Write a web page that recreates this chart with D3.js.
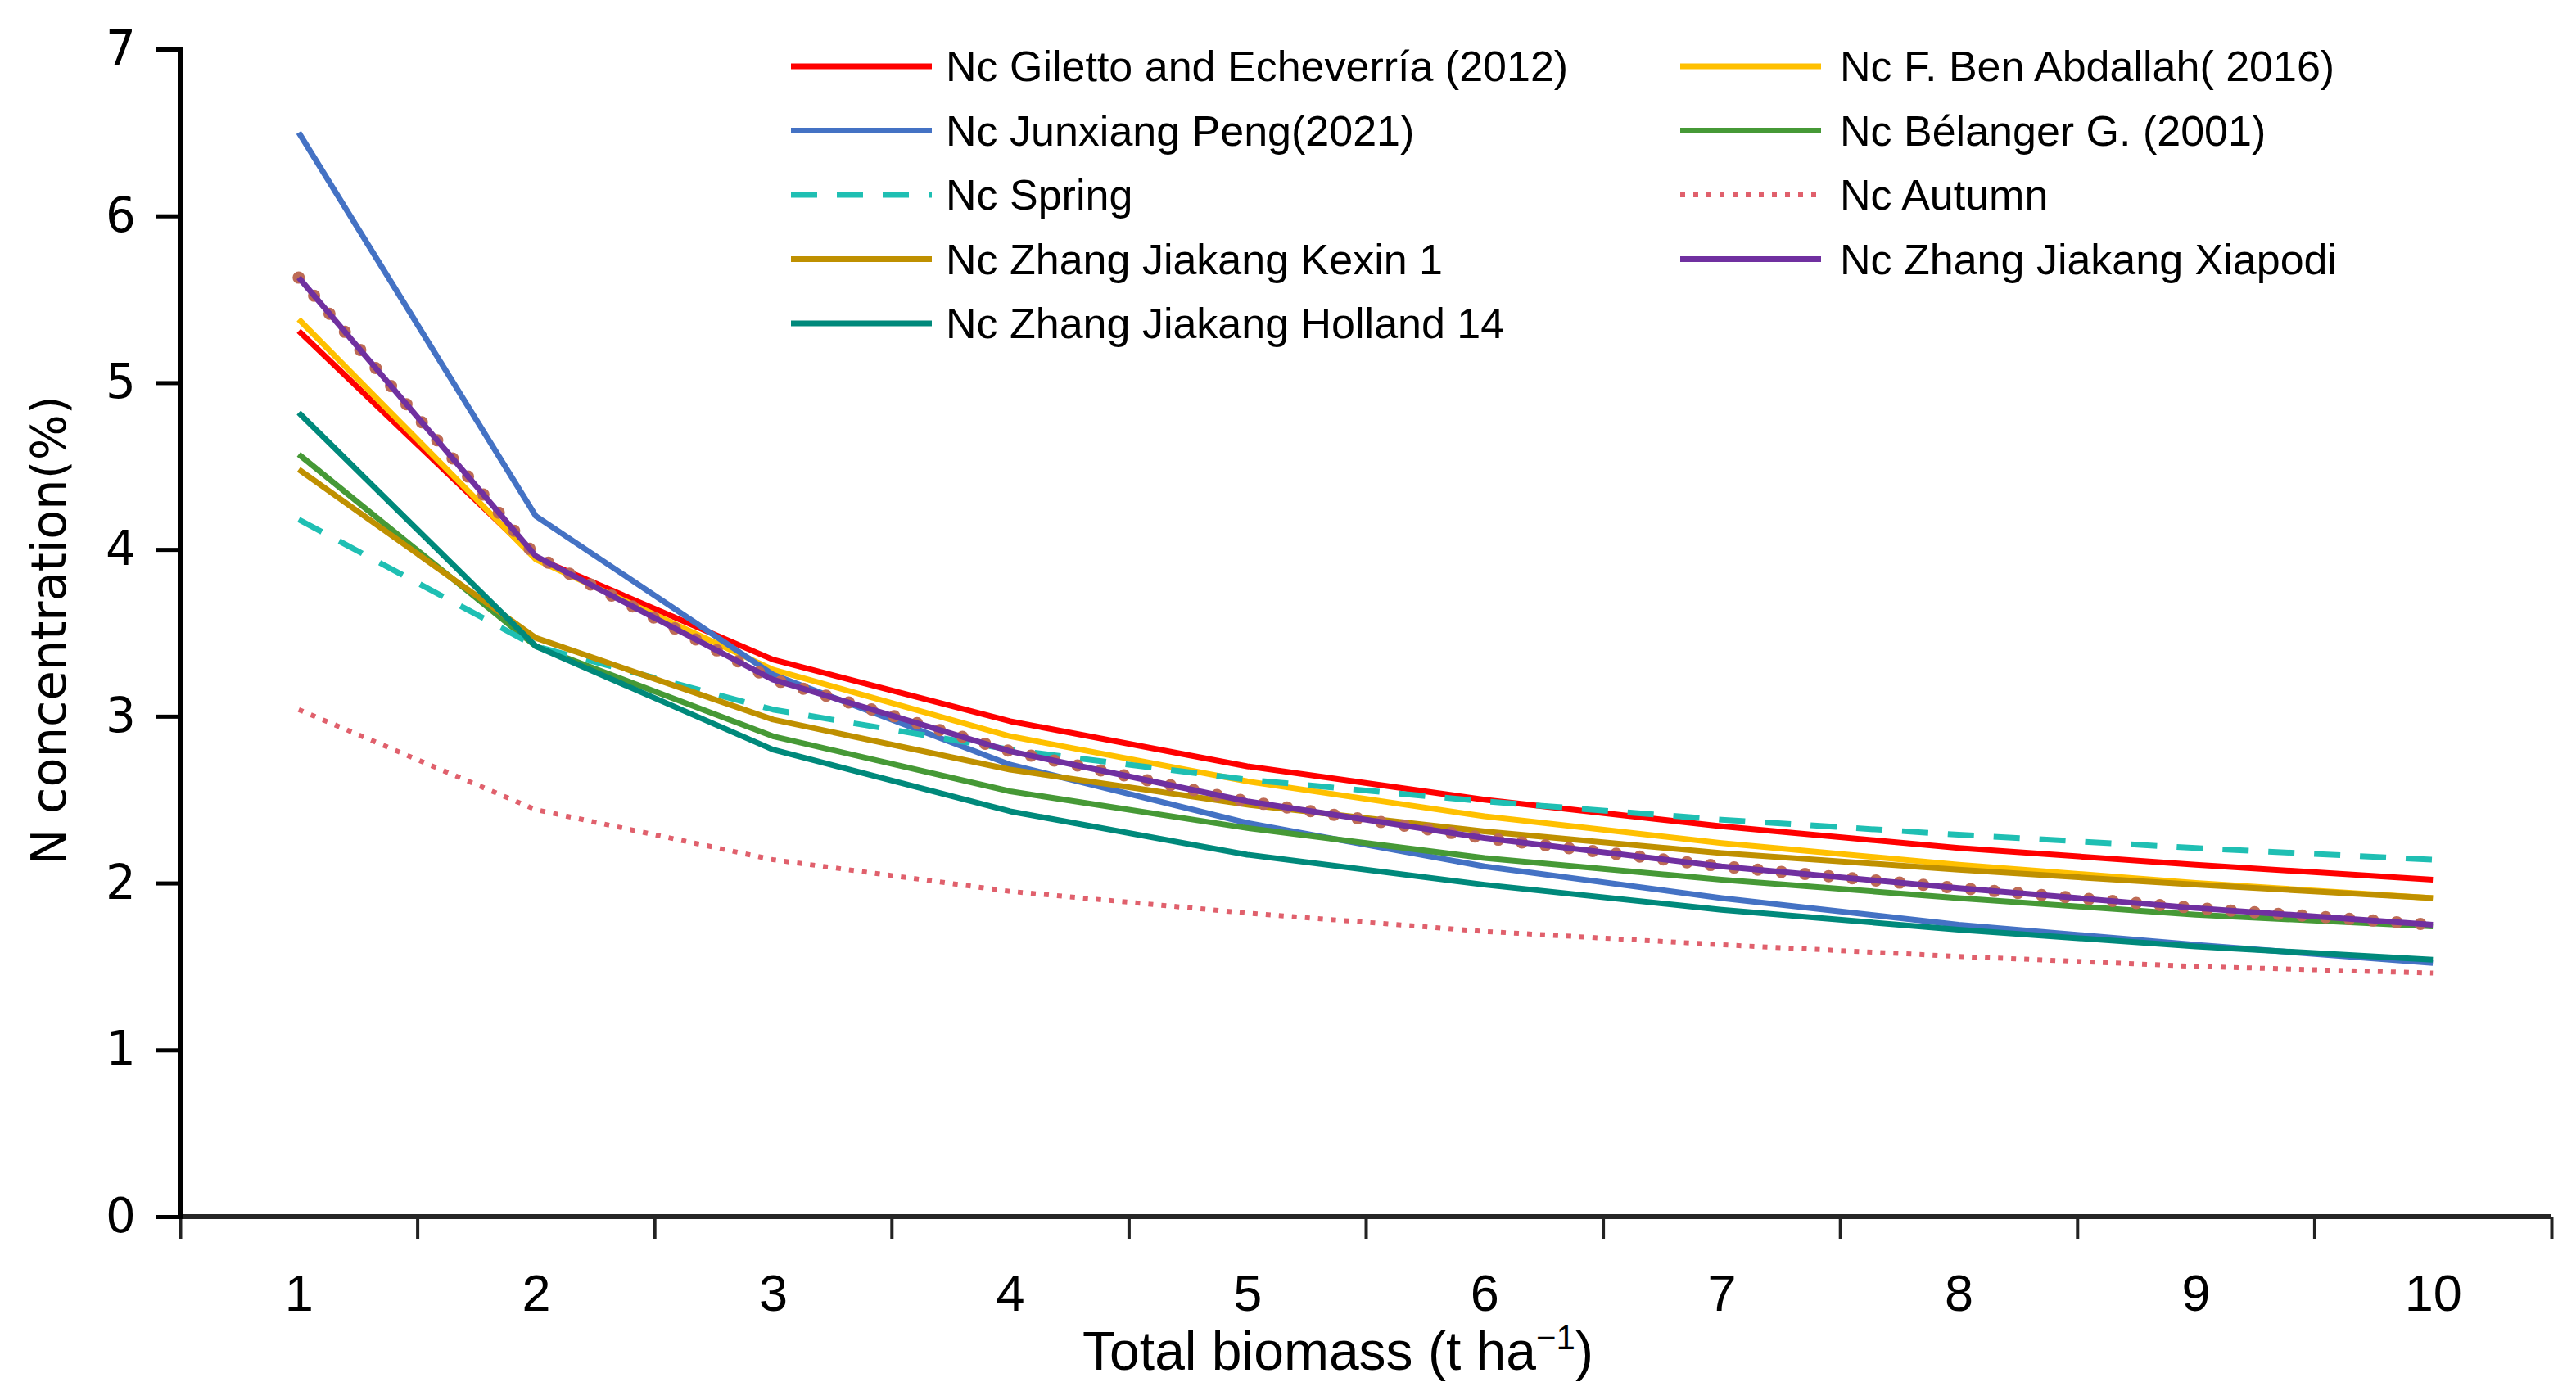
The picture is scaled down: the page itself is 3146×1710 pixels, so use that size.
<!DOCTYPE html>
<html>
<head>
<meta charset="utf-8">
<script src="https://cdn.jsdelivr.net/npm/d3@7"></script>
<style>
  html, body { margin: 0; padding: 0; background: #fff; }
  svg { display: block; }
</style>
</head>
<body>
<svg id="chart" width="3146" height="1710"></svg>
<script>
// ---- data ----
const categories = [1, 2, 3, 4, 5, 6, 7, 8, 9, 10];
const yTicks = [0, 1, 2, 3, 4, 5, 6, 7];

const giletto     = [5.31, 3.95, 3.34, 2.97, 2.70, 2.50, 2.34, 2.21, 2.11, 2.02];
const benAbdallah = [5.38, 3.94, 3.28, 2.88, 2.61, 2.40, 2.24, 2.11, 2.00, 1.91];
const peng        = [6.50, 4.20, 3.25, 2.71, 2.36, 2.10, 1.91, 1.75, 1.63, 1.52];
const belanger    = [4.57, 3.42, 2.88, 2.55, 2.33, 2.15, 2.02, 1.91, 1.81, 1.74];
const spring      = [4.18, 3.42, 3.04, 2.80, 2.62, 2.49, 2.38, 2.29, 2.21, 2.14];
const autumn      = [3.04, 2.44, 2.14, 1.95, 1.82, 1.71, 1.63, 1.56, 1.50, 1.46];
const kexin       = [4.48, 3.47, 2.98, 2.68, 2.47, 2.31, 2.18, 2.08, 1.99, 1.91];
const xiapodi     = [5.63, 3.96, 3.22, 2.79, 2.49, 2.27, 2.10, 1.97, 1.85, 1.75];
const holland     = [4.82, 3.42, 2.80, 2.43, 2.17, 1.99, 1.84, 1.72, 1.62, 1.54];

const seriesNames = [
  "Nc Giletto and Echeverría (2012)",
  "Nc F. Ben Abdallah( 2016)",
  "Nc Junxiang Peng(2021)",
  "Nc Bélanger G.  (2001)",
  "Nc Spring",
  "Nc Autumn",
  "Nc Zhang Jiakang Kexin 1",
  "Nc Zhang Jiakang Xiapodi",
  "Nc Zhang Jiakang Holland 14"
];
const seriesValues = [giletto, benAbdallah, peng, belanger, spring, autumn, kexin, xiapodi, holland];

// ---- styles ----
const styles = [
  { color: "#ff0000", width: 7, dash: null },
  { color: "#ffc000", width: 7, dash: null },
  { color: "#4472c4", width: 7, dash: null },
  { color: "#469936", width: 7, dash: null },
  { color: "#1fbfb3", width: 7, dash: "32,24" },
  { color: "#e0606c", width: 6, dash: "6,10" },
  { color: "#bf9000", width: 7, dash: null },
  { color: "#7030a0", width: 7, dash: null, dots: "#bd6b55" },
  { color: "#00897b", width: 7, dash: null }
];

const series = seriesNames.map((name, i) => ({ name, values: seriesValues[i], style: styles[i] }));

// ---- layout ----
const svg = d3.select("#chart");
const plotL = 220, plotR = 3116, plotT = 60, plotB = 1486;

const x = d3.scaleLinear().domain([0.5, 10.5]).range([plotL, plotR]);
const y = d3.scaleLinear().domain([0, 7]).range([plotB, plotT]);

const line = d3.line()
  .x((d, i) => x(categories[i]))
  .y(d => y(d))
  .curve(d3.curveLinear);

// ---- series ----
const gLines = svg.append("g");
series.forEach(s => {
  if (s.style.dots) {
    gLines.append("path")
      .attr("d", line(s.values))
      .attr("fill", "none")
      .attr("stroke", s.style.dots)
      .attr("stroke-width", 15)
      .attr("stroke-linecap", "round")
      .attr("stroke-dasharray", "0,29");
  }
  gLines.append("path")
    .attr("d", line(s.values))
    .attr("fill", "none")
    .attr("stroke", s.style.color)
    .attr("stroke-width", s.style.width)
    .attr("stroke-dasharray", s.style.dash)
    .attr("stroke-linejoin", "round");
});

// ---- axes ----
const yAxis = d3.axisLeft(y).tickValues(yTicks).tickSize(30).tickPadding(24).tickFormat(d3.format("d"));
const gy = svg.append("g").attr("transform", `translate(${plotL},0)`).call(yAxis);
gy.select(".domain").remove();
gy.selectAll(".tick line").attr("stroke", "#000").attr("stroke-width", 5);
gy.selectAll(".tick text")
  .attr("font-family", "'DejaVu Sans', Verdana, sans-serif")
  .attr("font-size", 58)
  .attr("fill", "#000");

const tickPos = d3.range(0.5, 11, 1);
const xTicksAxis = d3.axisBottom(x).tickValues(tickPos).tickSize(27).tickFormat("");
const gxt = svg.append("g").attr("transform", `translate(0,${plotB})`).call(xTicksAxis);
gxt.select(".domain").remove();
gxt.selectAll(".tick line").attr("stroke", "#222").attr("stroke-width", 4);

const xLabelAxis = d3.axisBottom(x).tickValues(categories).tickSize(0).tickPadding(70).tickFormat(d3.format("d"));
const gxl = svg.append("g").attr("transform", `translate(0,${plotB})`).call(xLabelAxis);
gxl.select(".domain").remove();
gxl.selectAll(".tick text")
  .attr("font-family", "'Liberation Sans', Arial, sans-serif")
  .attr("font-size", 63)
  .attr("fill", "#000");

// axis lines
svg.append("line").attr("x1", plotL).attr("x2", plotR).attr("y1", plotB).attr("y2", plotB)
  .attr("stroke", "#262626").attr("stroke-width", 6);
svg.append("line").attr("x1", plotL).attr("x2", plotL).attr("y1", plotT - 2).attr("y2", plotB + 3)
  .attr("stroke", "#000").attr("stroke-width", 6);

// ---- axis titles ----
const xt = svg.append("text")
  .attr("x", 1634)
  .attr("y", 1673)
  .attr("text-anchor", "middle")
  .attr("font-family", "'Liberation Sans', Arial, sans-serif")
  .attr("font-size", 66)
  .attr("fill", "#000");
xt.append("tspan").text("Total biomass (t ha");
xt.append("tspan").attr("font-size", 42).attr("dy", -25).text("−1");
xt.append("tspan").attr("dy", 25).text(")");

svg.append("text")
  .attr("transform", `translate(80,770) rotate(-90)`)
  .attr("text-anchor", "middle")
  .attr("font-family", "'DejaVu Sans', Verdana, sans-serif")
  .attr("font-size", 59)
  .attr("fill", "#000")
  .text("N concentration(%)");

// ---- legend ----
const legCols = [{ lx: 966, tx: 1155 }, { lx: 2052, tx: 2247 }];
const legY0 = 81, legDy = 78.5, legLine = 172;
const gLeg = svg.append("g");
series.forEach((s, i) => {
  const col = legCols[i % 2];
  const row = Math.floor(i / 2);
  const cy = legY0 + row * legDy;
  gLeg.append("line")
    .attr("x1", col.lx).attr("x2", col.lx + legLine)
    .attr("y1", cy).attr("y2", cy)
    .attr("stroke", s.style.color)
    .attr("stroke-width", s.style.width)
    .attr("stroke-dasharray", s.style.dash);
  gLeg.append("text")
    .attr("x", col.tx).attr("y", cy + 18)
    .attr("font-family", "'Liberation Sans', Arial, sans-serif")
    .attr("font-size", 52)
    .attr("fill", "#000")
    .text(s.name);
});
</script>
</body>
</html>
